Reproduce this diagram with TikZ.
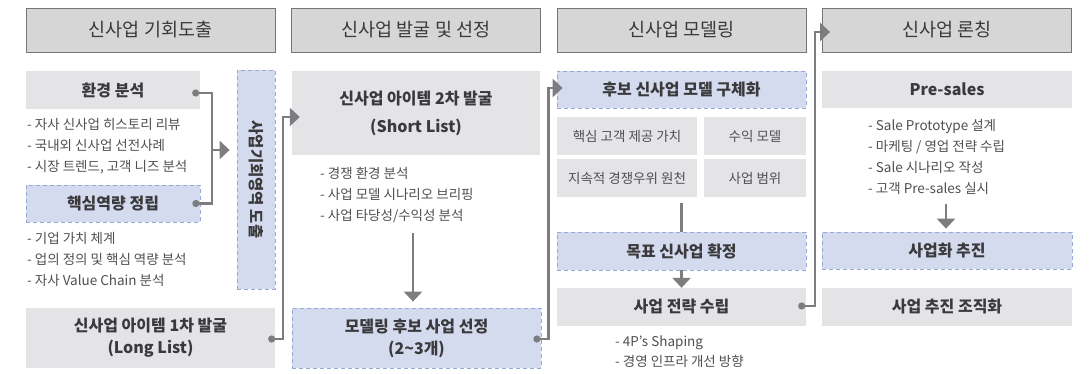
\documentclass[tikz,border=0pt]{standalone}
\usepackage{fontspec}
\setmainfont{Noto Sans CJK KR}
\usetikzlibrary{arrows.meta,calc}

\definecolor{headfill}{RGB}{214,214,214}
\definecolor{headline}{RGB}{118,118,118}
\definecolor{boxgray}{RGB}{228,228,230}
\definecolor{boxblue}{RGB}{213,219,238}
\definecolor{blueline}{RGB}{150,168,214}
\definecolor{txtdark}{RGB}{58,58,60}
\definecolor{txtlight}{RGB}{80,80,82}
\definecolor{conngray}{RGB}{125,125,128}

\tikzset{
	phase/.style={draw=headline, line width=0.8pt, fill=headfill, text=txtdark, minimum width=249pt, minimum height=44pt, inner sep=0pt, font=\fontsize{18.5}{22}\selectfont},
	graybox/.style={fill=boxgray, text=txtdark, inner sep=0pt, align=center, font=\bfseries\fontsize{16}{22}\selectfont},
	bluebox/.style={graybox, fill=boxblue, draw=blueline, line width=0.8pt, dash pattern=on 4pt off 3pt},
	subbox/.style={fill=boxgray, text=txtlight, inner sep=0pt, minimum height=38pt, font=\fontsize{13.5}{16}\selectfont},
	bullets/.style={anchor=west, align=left, inner sep=0pt, text=txtlight, font=\fontsize{13.5}{21}\selectfont},
	conn/.style={draw=conngray, line width=2.5pt},
	knob/.tip={Circle[length=7pt]},
	wedge/.tip={Triangle[length=10pt,width=18pt]}
}

\begin{document}
\begin{tikzpicture}[x=1pt,y=-1pt]

	\fill[white] (0,0) rectangle (1090,374);
	\useasboundingbox (0,0) rectangle (1090,374);

	\node[phase] (ph1) at (150.5,30) {신사업 기회도출};
	\node[phase] (ph2) at (416,30)   {신사업 발굴 및 선정};
	\node[phase] (ph3) at (681.5,30) {신사업 모델링};
	\node[phase] (ph4) at (947,30)   {신사업 론칭};

	% 기회도출
	\node[graybox, minimum width=174pt, minimum height=38pt] (env) at (113,90) {환경 분석};
	\node[bullets] (envlist) at (27,146) {- 자사 신사업 히스토리 리뷰\\- 국내외 신사업 선전사례\\- 시장 트렌드, 고객 니즈 분석};
	\node[bluebox, minimum width=174pt, minimum height=37pt] (core) at (113,203.5) {핵심역량 정립};
	\node[bullets] (corelist) at (27,259) {- 기업 가치 체계\\- 업의 정의 및 핵심 역량 분석\\- 자사 Value Chain 분석};
	\node[bluebox, minimum width=38pt, minimum height=219pt] (opp) at (256,179.5) {};
	\node[rotate=-90, text=txtdark, font=\bfseries\fontsize{15.5}{18}\selectfont] (opplabel) at (opp) {사업기회영역 도출};
	\node[graybox, minimum width=249pt, minimum height=60pt] (long) at (150.5,338) {신사업 아이템 1차 발굴\\(Long List)};

	% 발굴 및 선정
	\node[graybox, minimum width=248pt, minimum height=84pt, font=\bfseries\fontsize{16}{28}\selectfont] (short) at (416,113) {신사업 아이템 2차 발굴\\(Short List)};
	\node[bullets] (shortlist) at (320,195.5) {- 경쟁 환경 분석\\- 사업 모델 시나리오 브리핑\\- 사업 타당성/수익성 분석};
	\node[bluebox, minimum width=249pt, minimum height=60pt] (sel) at (416.5,338) {모델링 후보 사업 선정\\(2\textasciitilde3개)};

	% 모델링
	\node[bluebox, minimum width=249pt, minimum height=37pt] (model) at (681.5,89.5) {후보 신사업 모델 구체화};
	\node[subbox, minimum width=140pt] (value)   at (627,136) {핵심 고객 제공 가치};
	\node[subbox, minimum width=102pt] (revenue) at (755,136) {수익 모델};
	\node[subbox, minimum width=140pt] (edge)    at (627,178) {지속적 경쟁우위 원천};
	\node[subbox, minimum width=102pt] (range)   at (755,178) {사업 범위};
	\node[bluebox, minimum width=249pt, minimum height=38pt] (goal) at (681.5,251) {목표 신사업 확정};
	\node[graybox, minimum width=249pt, minimum height=38pt] (strat) at (681.5,307) {사업 전략 수립};
	\node[bullets, font=\fontsize{13.5}{20}\selectfont] (stratlist) at (615,352) {- 4P’s Shaping\\- 경영 인프라 개선 방향};

	% 론칭
	\node[graybox, minimum width=250pt, minimum height=37pt] (pre) at (947,89.5) {Pre-sales};
	\node[bullets] (prelist) at (868,156.5) {- Sale Prototype 설계\\- 마케팅 / 영업 전략 수립\\- Sale 시나리오 작성\\- 고객 Pre-sales 실시};
	\node[bluebox, minimum width=250pt, minimum height=37pt] (push) at (947,250.5) {사업화 추진};
	\node[graybox, minimum width=250pt, minimum height=38pt] (org) at (947,307) {사업 추진 조직화};

	\draw[conn, knob-knob] ($(env.east)+(-8,3)$) -- ++(20,0) |- ($(core.east)+(-8,0)$);
	\coordinate (j1) at ($(env.east)+(12,60)$);
	\draw[conn, -wedge, shorten >=7pt] (j1) -- (j1 -| opp.west);
	\draw[conn, knob-wedge] ($(long.east)+(-7,1)$) -- ++(15,0) |- ($(short.west)+(8,4)$);
	\draw[conn, -wedge] ($(short.south)+(-3,78)$) -- ($(sel.north)+(-3.5,-6)$);
	\draw[conn, knob-wedge] ($(sel.east)+(-8,1)$) -- ++(15,0) |- ($(model.west)+(6,-1.5)$);
	\draw[conn] ($(goal.north)+(0,-29)$) -- (goal.north);
	\draw[conn, -wedge] (goal.south) -- (strat.north);
	\draw[conn, knob-wedge] ($(strat.east)+(-8,-1)$) -- ++(17,0) |- ($(ph4.west)+(8,2)$);
	\draw[conn, -wedge] ($(push.north)+(-1,-28)$) -- ($(push.north)+(-1,-3)$);
	%	\draw[conn] (value) -- (edge);

\end{tikzpicture}
\end{document}
